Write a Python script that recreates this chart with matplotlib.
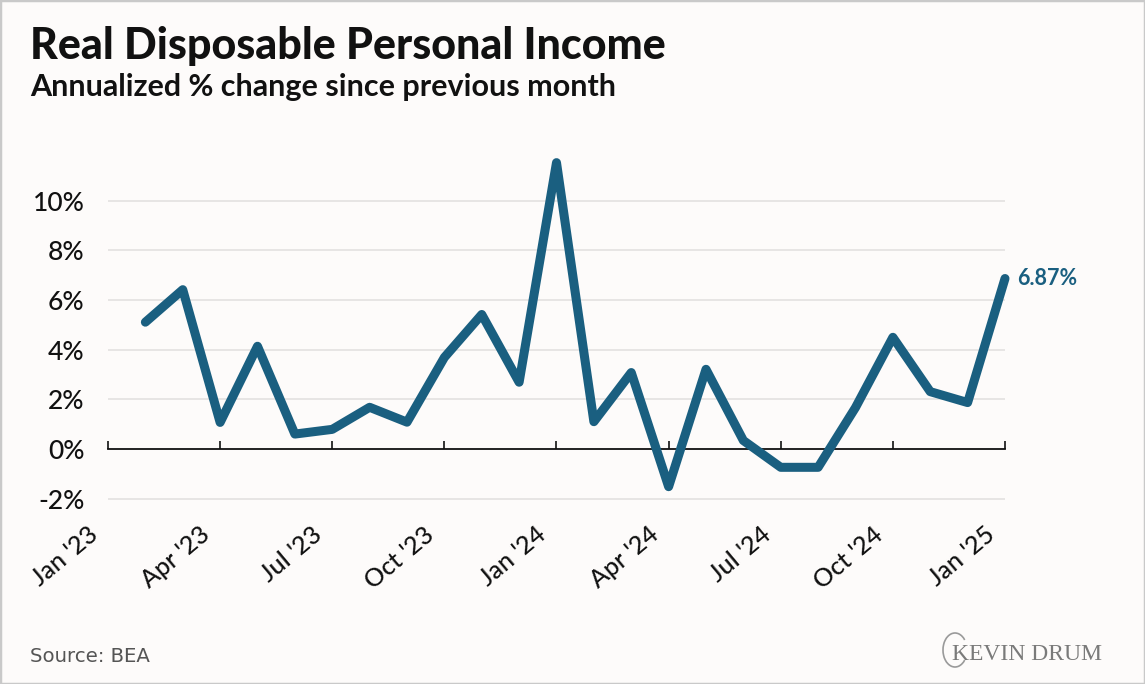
import matplotlib
matplotlib.use("Agg")
import matplotlib.pyplot as plt
import matplotlib.transforms as mtransforms
from matplotlib.patches import Arc

# ---- data ----
months = ["Feb '23", "Mar '23", "Apr '23", "May '23", "Jun '23", "Jul '23",
          "Aug '23", "Sep '23", "Oct '23", "Nov '23", "Dec '23", "Jan '24",
          "Feb '24", "Mar '24", "Apr '24", "May '24", "Jun '24", "Jul '24",
          "Aug '24", "Sep '24", "Oct '24", "Nov '24", "Dec '24", "Jan '25"]
values = [5.11, 6.42, 1.07, 4.14, 0.60, 0.79,
          1.68, 1.08, 3.69, 5.42, 2.69, 11.54,
          1.10, 3.08, -1.52, 3.21, 0.34, -0.74,
          -0.74, 1.67, 4.50, 2.31, 1.87, 6.87]
month_index = list(range(1, len(values) + 1))   # Jan '23 = 0
tick_pos = [0, 3, 6, 9, 12, 15, 18, 21, 24]
tick_labels = ["Jan '23", "Apr '23", "Jul '23", "Oct '23", "Jan '24",
               "Apr '24", "Jul '24", "Oct '24", "Jan '25"]
y_ticks = [-2, 0, 2, 4, 6, 8, 10]
y_tick_labels = ["-2%", "0%", "2%", "4%", "6%", "8%", "10%"]
last_label = "6.87%"

title = "Real Disposable Personal Income"
subtitle = "Annualized % change since previous month"
source = "Source: BEA"
brand = "KEVIN DRUM"

# ---- style ----
BG = "#FDFBFA"
LINE = "#1A5F80"
W, H = 1145, 684
fig = plt.figure(figsize=(W / 100, H / 100), dpi=100, facecolor=BG)

ymin, ymax = -2.42, 12.05
ax = fig.add_axes([108 / W, 1 - 509 / H, (1005 - 108) / W, (509 - 150) / H])
ax.set_facecolor(BG)
ax.set_xlim(0, 24)
ax.set_ylim(ymin, ymax)

for s in ax.spines.values():
    s.set_visible(False)

ax.set_yticks(y_ticks)
ax.set_yticklabels(y_tick_labels, fontfamily="Lato", fontweight="medium",
                   fontsize=19, color="#111111")
ax.tick_params(axis="y", length=0, pad=17)
for y in y_ticks:
    if y != 0:
        ax.axhline(y, color="#E5E3E2", lw=1.3, zorder=1)

ax.set_xticks(tick_pos)
ax.set_xticklabels(tick_labels, fontfamily="Lato", fontweight="medium",
                   fontsize=18, color="#111111",
                   rotation=40, ha="right", va="top")
ax.tick_params(axis="x", length=0, pad=10)
offset = mtransforms.ScaledTranslation(-6 / 100, 0, fig.dpi_scale_trans)
for lab in ax.get_xticklabels():
    lab.set_transform(lab.get_transform() + offset)

# zero line with upward ticks
zero_axes = (0 - ymin) / (ymax - ymin)
sec = ax.secondary_xaxis(zero_axes)
sec.set_xticks(tick_pos)
sec.set_xticklabels([])
sec.tick_params(axis="x", direction="in", length=6, width=1.2, color="#111111")
sec.spines["bottom"].set_color("#111111")
sec.spines["bottom"].set_linewidth(1.3)

ax.plot(month_index, values, color=LINE, lw=6.5, solid_joinstyle="round",
        solid_capstyle="round", zorder=3, clip_on=False)

ax.annotate(last_label, xy=(month_index[-1], values[-1]), xytext=(9, 0),
            textcoords="offset points", va="center", ha="left",
            fontfamily="Lato", fontweight="bold", fontsize=15.5, color=LINE)

# ---- titles / footer ----
fig.text(30 / W, 1 - 46 / H, title, fontfamily="Lato", fontweight="black",
         fontsize=31, color="#111111", va="center", ha="left")
fig.text(30 / W, 1 - 87 / H, subtitle, fontfamily="Lato", fontweight="bold",
         fontsize=22, color="#111111", va="center", ha="left")
fig.text(30 / W, 1 - 657 / H, source, fontfamily="DejaVu Sans", fontsize=14.2,
         color="#555555", va="center", ha="left")
fig.text(1102 / W, 1 - 655 / H, brand, fontfamily="Liberation Serif",
         fontsize=17, color="#7A7A7A", va="center", ha="right")
fig.patches.append(Arc((955 / W, 1 - 650 / H), 24 / W, 34 / H, theta1=60, theta2=300,
                       transform=fig.transFigure, color="#9A9A9A", lw=1.2))

# border
fig.patches.append(plt.Rectangle((0, 0), 1, 1, transform=fig.transFigure,
                                 fill=False, edgecolor="#C9C9C9", lw=2.5))

fig.savefig("out.png", dpi=100, facecolor=BG)
